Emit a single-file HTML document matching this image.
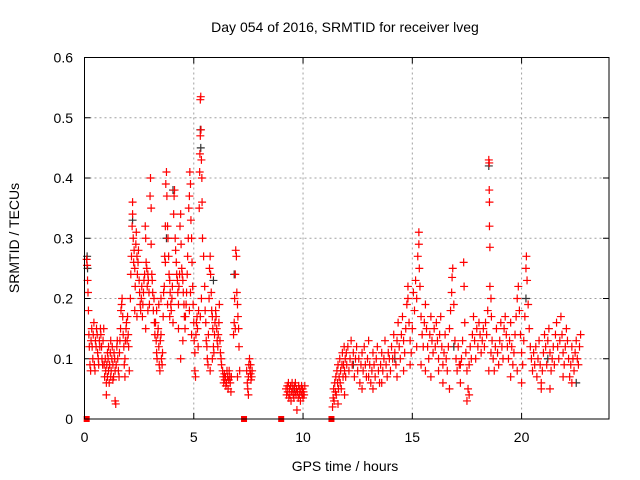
<!DOCTYPE html>
<html><head><meta charset="utf-8"><style>
body{margin:0;background:#fff}
svg{display:block;font-family:"Liberation Sans",sans-serif}
</style></head><body>
<svg id="chart" width="640" height="480" viewBox="0 0 640 480" xmlns="http://www.w3.org/2000/svg">
<rect x="0" y="0" width="640" height="480" fill="#fff"/>
<text x="345" y="32" font-size="14" text-anchor="middle" fill="#000">Day 054 of 2016, SRMTID for receiver lveg</text>
<text transform="translate(19,238) rotate(-90)" font-size="14" text-anchor="middle" fill="#000">SRMTID / TECUs</text>
<text x="345" y="471" font-size="14" text-anchor="middle" fill="#000">GPS time / hours</text>
<g id="grid"></g>
<g id="ticks"></g>
<g id="black"></g>
<g id="red"></g>
<rect x="84.5" y="57.5" width="524.5" height="361.5" fill="none" stroke="#000" stroke-width="1"/>
</svg>
<script>
const xTicks = [0, 5, 10, 15, 20];
const yTicks = [0, 0.1, 0.2, 0.3, 0.4, 0.5, 0.6];
const yTickLabels = ["0", "0.1", "0.2", "0.3", "0.4", "0.5", "0.6"];
const blackSeries = [[0.12,.27],[0.14,.25],[4.05,.38],[5.3,.48],[5.32,.45],[5.9,.23],[6.85,.24],[18.5,.42],[14.2,.10],[22.5,.06],[3.75,.30],[2.2,.33],[9.6,.05],[12.3,.09],[16.9,.12],[20.2,.2],[21.2,.1]];
const zeroTimes = [0.1, 7.3, 9.0, 11.3];
const redSeries = [
[0.10,.265],[0.12,.255],[0.14,.23],[0.16,.21],[0.18,.18],[0.20,.14],[0.22,.12],[0.25,.09],[0.28,.08],[0.30,.13],[0.33,.15],[0.35,.12],[0.38,.10],[0.40,.14],[0.43,.16],[0.45,.09],[0.48,.08],[0.50,.13],[0.53,.12],[0.55,.15],[0.58,.14],[0.60,.11],[0.63,.10],[0.65,.09],[0.68,.13],[0.70,.12],[0.73,.15],[0.75,.14],[0.78,.12],[0.80,.10],[0.83,.09],[0.85,.13],[0.88,.15],
[0.9,.09],[0.92,.07],[0.95,.10],[0.97,.08],[1.0,.06],[1.0,.04],[1.02,.09],[1.05,.11],[1.05,.07],[1.08,.10],[1.1,.12],[1.1,.08],[1.13,.06],[1.15,.09],[1.18,.11],[1.2,.13],[1.2,.07],[1.22,.08],[1.25,.10],[1.27,.12],[1.3,.09],[1.3,.065],[1.33,.07],[1.35,.11],[1.38,.10],[1.4,.08],[1.4,.03],[1.43,.025],[1.45,.09],[1.48,.12],[1.5,.13],[1.52,.10],[1.55,.08],[1.58,.07],
[1.6,.11],[1.62,.13],[1.65,.15],[1.67,.18],[1.7,.19],[1.72,.20],[1.75,.17],[1.77,.14],[1.8,.12],[1.82,.09],[1.85,.10],[1.87,.13],[1.9,.15],[1.92,.16],[1.95,.13],[1.97,.17],[2.0,.14],[2.02,.12],[2.05,.08],[1.85,.07],
[2.1,.20],[2.12,.24],[2.15,.27],[2.18,.32],[2.2,.36],[2.2,.34],[2.23,.30],[2.25,.26],[2.27,.28],[2.3,.25],[2.32,.22],[2.35,.29],[2.37,.31],[2.4,.27],[2.42,.24],[2.45,.26],[2.47,.28],[2.5,.23],[2.52,.21],[2.55,.19],[2.57,.18],[2.6,.20],[2.62,.22],[2.65,.17],[2.67,.19],[2.7,.21],[2.3,.18],[2.4,.17],
[2.72,.23],[2.75,.24],[2.78,.32],[2.8,.30],[2.82,.26],[2.85,.25],[2.87,.22],[2.9,.24],[2.92,.23],[2.95,.21],[2.97,.19],[3.0,.37],[3.02,.40],[3.05,.35],[3.05,.29],[3.08,.24],[3.1,.23],[3.12,.21],[3.15,.18],[3.18,.20],[3.2,.16],[2.8,.15],[2.9,.18],
[3.22,.14],[3.25,.16],[3.28,.13],[3.3,.11],[3.32,.10],[3.35,.14],[3.37,.15],[3.4,.12],[3.42,.09],[3.45,.08],[3.47,.13],[3.5,.14],[3.52,.10],[3.55,.09],[3.57,.11],[3.4,.19],[3.5,.20],[3.3,.18],
[3.6,.17],[3.62,.21],[3.65,.22],[3.67,.27],[3.7,.32],[3.72,.39],[3.75,.41],[3.77,.37],[3.8,.32],[3.82,.30],[3.85,.27],[3.87,.24],[3.9,.23],[3.92,.21],[3.95,.19],[3.97,.18],[4.0,.20],[4.02,.22],[4.05,.16],[3.8,.19],[3.9,.17],[3.7,.26],
[4.08,.34],[4.1,.37],[4.12,.38],[4.15,.30],[4.17,.28],[4.2,.26],[4.22,.24],[4.25,.23],[4.27,.21],[4.3,.19],[4.32,.22],[4.35,.24],[4.37,.32],[4.4,.34],[4.42,.29],[4.45,.25],[4.47,.24],[4.5,.23],[4.52,.21],[4.55,.19],[4.57,.17],[4.6,.15],[4.3,.15],[4.4,.10],[4.5,.13],
[4.62,.17],[4.65,.19],[4.67,.21],[4.7,.24],[4.72,.27],[4.75,.30],[4.77,.35],[4.8,.37],[4.82,.41],[4.85,.39],[4.87,.33],[4.9,.30],[4.92,.26],[4.95,.22],[4.97,.19],[5.0,.16],[4.8,.18],[4.9,.14],[4.85,.21],
[5.02,.13],[5.05,.11],[5.05,.08],[5.08,.07],[5.1,.14],[5.12,.16],[5.15,.17],[5.17,.15],[5.2,.12],[5.22,.18],[5.25,.35],[5.27,.41],[5.28,.44],[5.3,.47],[5.3,.53],[5.32,.535],[5.33,.48],[5.35,.43],[5.37,.40],[5.38,.36],[5.4,.30],[5.35,.20],[5.3,.17],
[5.45,.27],[5.5,.22],[5.52,.18],[5.55,.16],[5.57,.13],[5.6,.12],[5.62,.10],[5.65,.09],[5.67,.14],[5.7,.20],[5.72,.25],[5.75,.27],[5.77,.24],[5.8,.21],[5.82,.18],[5.85,.17],[5.87,.15],[5.9,.12],[5.92,.11],[5.95,.14],[5.97,.16],[6.0,.18],[6.02,.17],[6.05,.15],[6.07,.13],[6.1,.12],[6.12,.14],[6.15,.16],[6.17,.19],[6.2,.13],[6.22,.11],[6.25,.10],[6.27,.09],[5.75,.08],[5.85,.10],
[6.32,.08],[6.35,.07],[6.37,.06],[6.4,.075],[6.42,.065],[6.45,.07],[6.47,.055],[6.5,.06],[6.52,.08],[6.55,.07],[6.57,.05],[6.6,.065],[6.62,.08],[6.65,.07],[6.67,.06],[6.7,.045],[6.72,.07],
[6.82,.14],[6.85,.16],[6.87,.20],[6.9,.24],[6.92,.28],[6.95,.27],[6.97,.21],[7.0,.19],[7.02,.17],[7.05,.15],[7.07,.12],[7.1,.08],[6.9,.15],[7.0,.07],
[7.42,.08],[7.45,.06],[7.47,.05],[7.5,.07],[7.52,.09],[7.55,.10],[7.57,.08],[7.6,.075],[7.62,.065],[7.65,.07],[7.67,.08],[7.5,.04],[7.6,.09],
[9.22,.05],[9.25,.04],[9.28,.055],[9.3,.045],[9.33,.06],[9.35,.035],[9.38,.05],[9.4,.04],[9.43,.055],[9.45,.03],[9.48,.045],[9.5,.06],[9.53,.05],[9.55,.04],[9.58,.035],[9.6,.055],[9.63,.045],[9.65,.06],[9.68,.04],[9.7,.05],[9.72,.015],[9.75,.045],[9.78,.035],[9.8,.055],[9.83,.04],[9.85,.05],[9.88,.03],[9.9,.045],[9.93,.055],[9.95,.04],[9.98,.05],[10.0,.035],[10.02,.045],[10.05,.04],[10.08,.055],
[11.35,.02],[11.38,.035],[11.4,.05],[11.42,.03],[11.45,.06],[11.48,.045],[11.5,.07],[11.52,.04],[11.55,.08],[11.58,.06],[11.6,.09],[11.62,.05],[11.65,.07],[11.68,.10],[11.7,.06],[11.72,.08],[11.75,.05],[11.78,.09],[11.8,.11],[11.83,.07],[11.85,.09],[11.88,.12],[11.9,.08],[11.93,.10],[11.95,.07],[11.98,.11],[12.0,.09],[12.05,.12],[12.1,.08],[12.15,.10],[12.2,.13],[12.25,.09],[12.3,.11],[12.35,.07],[12.4,.10],[12.45,.12],[12.5,.08],[11.6,.025],[11.9,.04],
[12.55,.10],[12.6,.06],[12.65,.09],[12.7,.11],[12.75,.08],[12.8,.12],[12.85,.09],[12.9,.07],[12.95,.10],[13.0,.13],[13.05,.09],[13.1,.06],[13.15,.08],[13.2,.11],[13.25,.09],[13.3,.07],[13.35,.10],[13.4,.12],[13.45,.08],[13.5,.06],[13.55,.09],[13.6,.11],[13.65,.08],[13.7,.10],[13.75,.13],[13.8,.09],[13.85,.07],[13.9,.11],[13.95,.10],[14.0,.08],[12.7,.05],[13.2,.05],[13.0,.07],[13.6,.06],
[14.05,.12],[14.1,.10],[14.15,.14],[14.2,.11],[14.25,.09],[14.3,.13],[14.35,.16],[14.4,.12],[14.45,.10],[14.5,.14],[14.55,.17],[14.6,.13],[14.65,.11],[14.7,.15],[14.75,.19],[14.8,.22],[14.85,.16],[14.9,.13],[14.95,.11],[15.0,.15],[14.3,.07],[14.6,.08],[14.9,.09],[14.8,.20],
[15.05,.21],[15.1,.18],[15.15,.23],[15.2,.20],[15.25,.27],[15.3,.31],[15.3,.29],[15.32,.25],[15.35,.22],[15.4,.17],[15.45,.14],[15.5,.12],[15.55,.16],[15.6,.19],[15.65,.15],[15.7,.12],[15.75,.10],[15.8,.14],[15.85,.17],[15.9,.13],[15.95,.11],[16.0,.15],[15.4,.09],[15.6,.08],[15.2,.12],[15.85,.07],
[16.05,.12],[16.1,.16],[16.15,.13],[16.2,.10],[16.25,.14],[16.3,.17],[16.35,.12],[16.4,.09],[16.45,.11],[16.5,.14],[16.55,.10],[16.6,.08],[16.65,.12],[16.7,.15],[16.75,.18],[16.8,.21],[16.82,.235],[16.85,.25],[16.9,.19],[16.95,.13],[17.0,.10],[16.4,.06],[16.7,.05],[16.2,.08],
[17.05,.08],[17.1,.12],[17.15,.09],[17.2,.06],[17.25,.10],[17.3,.13],[17.35,.26],[17.37,.22],[17.4,.16],[17.45,.11],[17.5,.08],[17.55,.05],[17.6,.09],[17.65,.12],[17.7,.10],[17.75,.14],[17.8,.17],[17.85,.13],[17.9,.10],[17.95,.15],[18.0,.12],[18.05,.16],[18.1,.14],[18.15,.11],[18.2,.13],[18.25,.15],[18.3,.12],[17.5,.03],[17.6,.04],[17.2,.09],
[18.35,.16],[18.4,.14],[18.45,.18],[18.5,.43],[18.52,.425],[18.52,.38],[18.53,.36],[18.53,.32],[18.55,.285],[18.55,.22],[18.6,.20],[18.62,.17],[18.65,.13],[18.7,.10],[18.75,.08],[18.8,.12],[18.85,.15],[18.9,.11],[18.95,.09],[19.0,.13],[19.05,.16],[19.1,.12],[19.15,.10],[18.5,.08],[18.6,.11],
[19.2,.15],[19.25,.17],[19.3,.14],[19.35,.12],[19.4,.10],[19.45,.13],[19.5,.16],[19.55,.12],[19.6,.09],[19.65,.11],[19.7,.14],[19.75,.17],[19.8,.20],[19.85,.22],[19.9,.18],[19.95,.14],[20.0,.11],[20.05,.09],[20.1,.13],[20.15,.17],[20.2,.25],[20.22,.27],[20.25,.23],[20.3,.19],[20.35,.15],[20.4,.12],[19.5,.07],[19.8,.08],[20.0,.06],
[20.45,.10],[20.5,.08],[20.55,.11],[20.6,.09],[20.65,.12],[20.7,.07],[20.75,.10],[20.8,.13],[20.85,.09],[20.9,.06],[20.95,.08],[21.0,.11],[21.05,.14],[21.1,.12],[21.15,.09],[21.2,.13],[21.25,.15],[21.3,.11],[21.35,.08],[21.4,.10],[21.45,.12],[21.5,.09],[20.9,.05],[21.3,.05],
[21.55,.14],[21.6,.16],[21.65,.12],[21.7,.10],[21.75,.13],[21.8,.17],[21.85,.14],[21.9,.11],[21.95,.09],[22.0,.12],[22.05,.15],[22.1,.13],[22.15,.10],[22.2,.07],[22.25,.09],[22.3,.12],[22.35,.10],[22.4,.08],[22.45,.11],[22.5,.13],[22.55,.10],[22.6,.09],[22.65,.12],[22.7,.14],[21.9,.07],[22.3,.06]
];

const X0 = 84.5, XR = 609, Y0 = 419, YT = 57.5;
const xMin = 0, xMax = 24, yMin = 0, yMax = 0.6;
function sx(t){ return X0 + (t - xMin) / (xMax - xMin) * (XR - X0); }
function sy(v){ return Y0 - (v - yMin) / (yMax - yMin) * (Y0 - YT); }
const NS = "http://www.w3.org/2000/svg";
function mk(tag, attrs, parent){
  const el = document.createElementNS(NS, tag);
  for (const k in attrs) el.setAttribute(k, attrs[k]);
  parent.appendChild(el);
  return el;
}
const grid = document.getElementById('grid');
const ticks = document.getElementById('ticks');
yTicks.forEach((v, i) => {
  const y = sy(v);
  if (v > yMin && v < yMax) {
    const g = mk('line', {x1: X0, x2: XR, y1: y, y2: y, stroke: '#a0a0a0', 'stroke-width': 1, 'stroke-dasharray': '2,3'}, grid);
    
    
  }
  const t1 = mk('line', {x1: X0, x2: X0 + 6, y1: y, y2: y, stroke: '#000'}, ticks);
  
  
  const t2 = mk('line', {x1: XR - 6, x2: XR, y1: y, y2: y, stroke: '#000'}, ticks);
  
  
  const lab = mk('text', {x: 73, y: y + 5, 'font-size': 14, 'text-anchor': 'end', fill: '#000'}, ticks);
  lab.textContent = yTickLabels[i];
  
  
});
xTicks.forEach(t => {
  const x = sx(t);
  if (t > xMin) {
    const g = mk('line', {x1: x, x2: x, y1: YT, y2: Y0, stroke: '#a0a0a0', 'stroke-width': 1, 'stroke-dasharray': '2,3'}, grid);
    
    
  }
  const t1 = mk('line', {x1: x, x2: x, y1: Y0 - 6, y2: Y0, stroke: '#000'}, ticks);
  
  
  const t2 = mk('line', {x1: x, x2: x, y1: YT, y2: YT + 6, stroke: '#000'}, ticks);
  
  
  const lab = mk('text', {x: x, y: 442, 'font-size': 14, 'text-anchor': 'middle', fill: '#000'}, ticks);
  lab.textContent = String(t);
  
  
});
function drawSeries(data, parentId, color, name){
  const parent = document.getElementById(parentId);
  data.forEach(p => {
    const x = sx(p[0]), y = sy(p[1]);
    const el = mk('path', {d: `M${x-4},${y}H${x+4}M${x},${y-4}V${y+4}`, stroke: color, 'stroke-width': 1.2, fill: 'none'}, parent);
    
    
  });
}
drawSeries(blackSeries, 'black', '#333', 'black-point');
drawSeries(redSeries, 'red', '#ff0000', 'red-point');
const redG = document.getElementById('red');
zeroTimes.forEach(t => {
  const x = sx(t), y = sy(0);
  const el = mk('rect', {x: x - 3, y: y - 3, width: 6, height: 6, fill: '#ff0000'}, redG);
  
  
});
</script>
</body></html>
